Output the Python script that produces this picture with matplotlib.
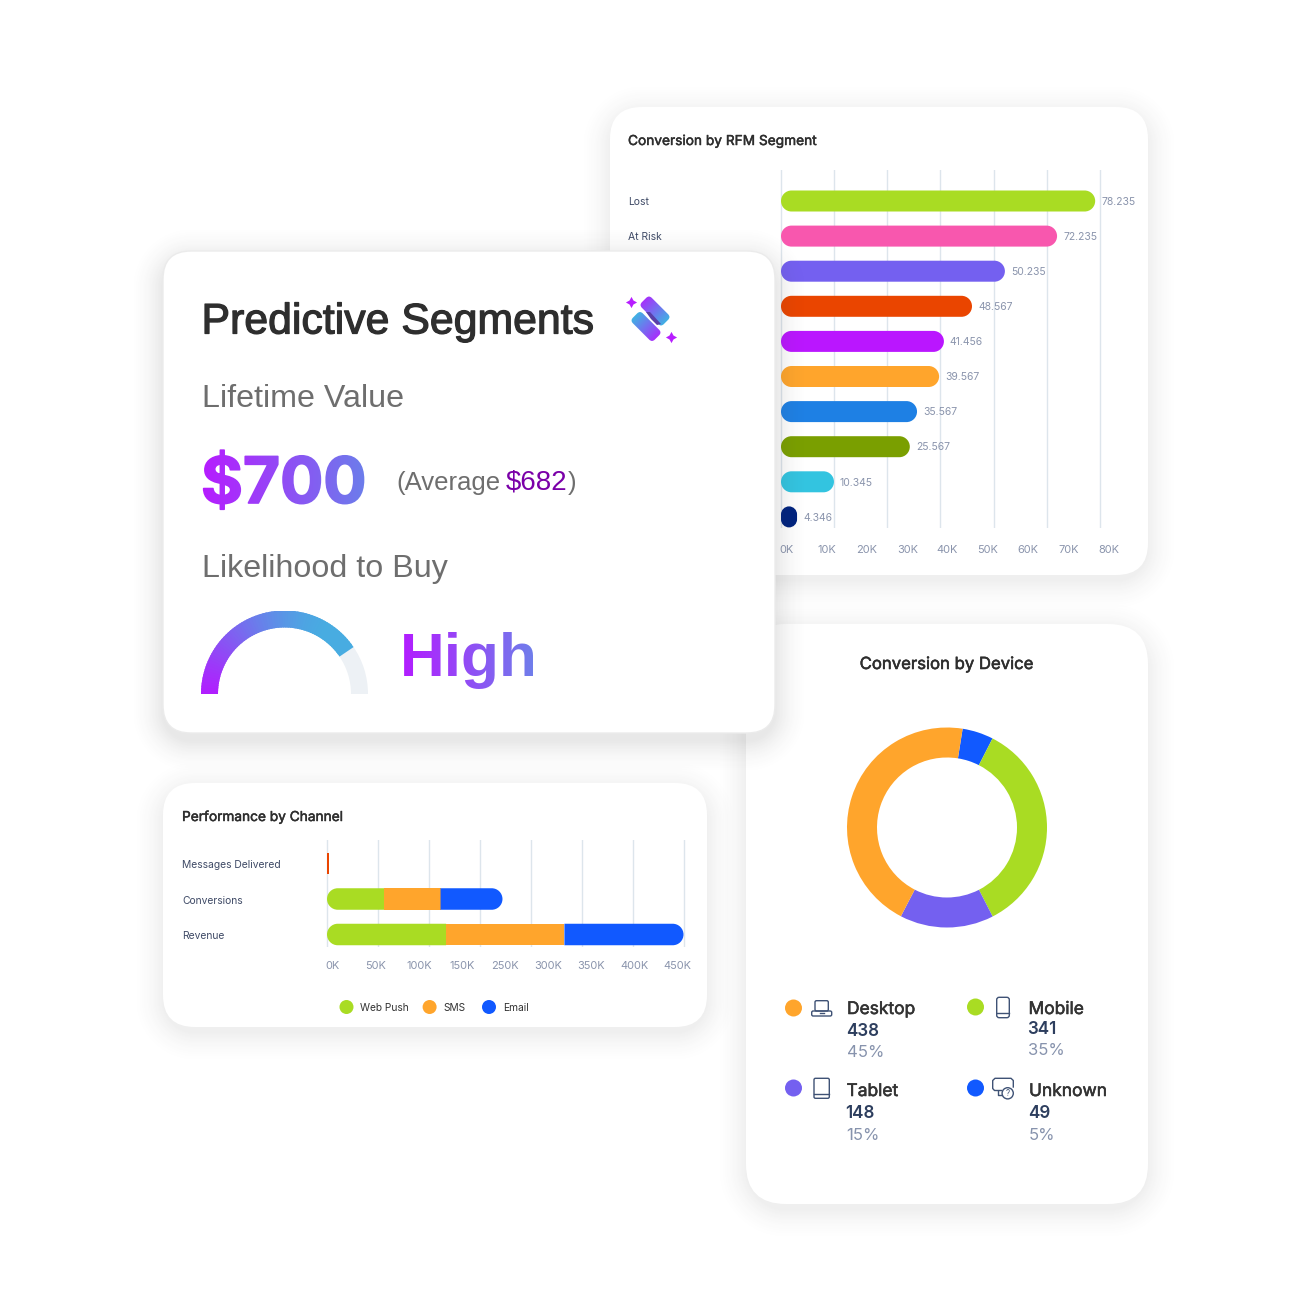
import numpy as np
import matplotlib
matplotlib.use("Agg")
import matplotlib.pyplot as plt
from matplotlib.patches import PathPatch, Wedge, Circle, FancyBboxPatch, Polygon
from matplotlib.path import Path
from matplotlib.transforms import Affine2D
import matplotlib.patheffects as pe

# ---------- data ----------
rfm_categories = ["Lost", "At Risk"]
rfm_lengths = [78.3, 68.8, 55.8, 47.6, 40.6, 39.4, 33.9, 32.1, 13.2, 4.0]
rfm_value_labels = ["78.235", "72.235", "50.235", "48.567", "41.456", "39.567", "35.567", "25.567", "10.345", "4.346"]
rfm_colors = ["#A9DC23", "#F857AE", "#7460F0", "#EA4500", "#BA16FF", "#FFA52C", "#1E80E4", "#7A9F00", "#33C4E0", "#00237F"]
rfm_ticks = ["0K", "10K", "20K", "30K", "40K", "50K", "60K", "70K", "80K"]

chan_categories = ["Messages Delivered", "Conversions", "Revenue"]
chan_series = ["Web Push", "SMS", "Email"]
chan_web = [2, 72, 150]
chan_sms = [0, 71, 149]
chan_email = [0, 78, 150]
chan_colors = ["#A9DC23", "#FFA52C", "#1159FF"]
chan_ticks = ["0K", "50K", "100K", "150K", "250K", "300K", "350K", "400K", "450K"]

dev_names = ["Unknown", "Mobile", "Tablet", "Desktop"]
dev_counts = [49, 341, 148, 438]
dev_pcts = ["5%", "35%", "15%", "45%"]
dev_colors = ["#1159FF", "#A9DC23", "#7460F0", "#FFA52C"]

gauge_value = 0.81

W = H = 1312
SANS = "Liberation Sans"
SMALL = "Inter"
fig = plt.figure(figsize=(13.12, 13.12), dpi=100, facecolor="white")


def fs(px):
    return px * 0.72


def px_axes(x0, y0, x1, y1, z):
    ax = fig.add_axes([x0 / W, 1 - y1 / H, (x1 - x0) / W, (y1 - y0) / H], zorder=z)
    ax.patch.set_visible(False)
    return ax


def overlay(z):
    ax = px_axes(0, 0, W, H, z)
    ax.set_axis_off()
    return ax


def finish(ax):
    ax.set_xlim(0, W)
    ax.set_ylim(H, 0)


yy, xx = np.mgrid[0:H, 0:W] + 0.5


def card(ax, x0, y0, x1, y1, r, strength=0.08, blur=34, dy=6, edge=None):
    cx, cy = (x0 + x1) / 2, (y0 + y1) / 2 + dy
    qx = np.abs(xx - cx) - (x1 - x0) / 2 + r
    qy = np.abs(yy - cy) - (y1 - y0) / 2 + r
    d = np.hypot(np.maximum(qx, 0), np.maximum(qy, 0)) + np.minimum(np.maximum(qx, qy), 0) - r
    a = strength * np.clip(1 - d / blur, 0, 1) ** 2
    img = np.zeros((H, W, 4))
    img[..., :3] = 0.25
    img[..., 3] = a
    ax.imshow(img, extent=(0, W, H, 0), aspect="auto", interpolation="nearest", zorder=0)
    ax.add_patch(FancyBboxPatch((x0, y0), x1 - x0, y1 - y0, boxstyle=f"round,pad=0,rounding_size={r}",
                                fc="white", ec=edge or "none", lw=1, zorder=1))


def pill(ax, x0, x1, yc, h_units, color, px_x, px_y, left=True, right=True, z=3):
    """Bar in data units, with corners round in pixels. px_x, px_y: pixels per data unit."""
    w_px = (x1 - x0) * px_x
    h_px = h_units * px_y
    r = min(h_px / 2, w_px / 2 if (left and right) else w_px)
    rx, ry = r / px_x, r / px_y
    k = 0.5523
    y0, y1 = yc - h_units / 2, yc + h_units / 2
    v, c = [], []
    if left:
        v += [(x0 + rx, y0)]; c += [Path.MOVETO]
    else:
        v += [(x0, y0)]; c += [Path.MOVETO]
    if right:
        v += [(x1 - rx, y0), (x1 - rx + k * rx, y0), (x1, y0 + ry - k * ry), (x1, y0 + ry),
              (x1, y1 - ry), (x1, y1 - ry + k * ry), (x1 - rx + k * rx, y1), (x1 - rx, y1)]
        c += [Path.LINETO, Path.CURVE4, Path.CURVE4, Path.CURVE4, Path.LINETO, Path.CURVE4, Path.CURVE4, Path.CURVE4]
    else:
        v += [(x1, y0), (x1, y1)]; c += [Path.LINETO, Path.LINETO]
    if left:
        v += [(x0 + rx, y1), (x0 + rx - k * rx, y1), (x0, y1 - ry + k * ry), (x0, y1 - ry),
              (x0, y0 + ry), (x0, y0 + ry - k * ry), (x0 + rx - k * rx, y0), (x0 + rx, y0)]
        c += [Path.LINETO, Path.CURVE4, Path.CURVE4, Path.CURVE4, Path.LINETO, Path.CURVE4, Path.CURVE4, Path.CURVE4]
    else:
        v += [(x0, y1), (x0, y0)]; c += [Path.LINETO, Path.LINETO]
    ax.add_patch(PathPatch(Path(v, c), fc=color, ec="none", zorder=z))


def hgrad(c0, c1):
    c0, c1 = np.array(c0) / 255, np.array(c1) / 255

    def f(img, dpi):
        h, w = img.shape[:2]
        t = np.linspace(0, 1, w)[None, :, None]
        img = img.copy()
        img[..., :3] = c0 * (1 - t) + c1 * t
        return img, 0, 0
    return f


def dgrad(c0, c1):
    c0, c1 = np.array(c0) / 255, np.array(c1) / 255

    def f(img, dpi):
        h, w = img.shape[:2]
        y, x = np.mgrid[0:h, 0:w]
        t = ((x + y) / max(w + h - 2, 1))[..., None]
        img = img.copy()
        img[..., :3] = c0 * (1 - t) + c1 * t
        return img, 0, 0
    return f


SLATE = "#3F4A66"
TICK = "#8A94AC"
GRID = "#DDE5EC"
DARK = "#2E2E2E"


def medium(color, lw=0.35):
    return [pe.withStroke(linewidth=lw, foreground=color)]


# ---------- RFM card ----------
ax0 = overlay(1)
card(ax0, 610, 107, 1148, 575, 32)
ax0.text(628, 145, "Conversion by RFM Segment", fontsize=fs(13.7), family=SMALL, color=DARK, path_effects=medium(DARK))
for i, name in enumerate(rfm_categories):
    ax0.text(628.3, 205 + 35 * i, name, fontsize=fs(10.4), family=SMALL, color=SLATE)
finish(ax0)

RX0, RX1, RY0, RY1 = 781, 1125, 170, 528
STEP = 35.1
pxx = 4.0125
axr = px_axes(RX0 - 2, RY0, RX1, RY1, 2)
for s in axr.spines.values():
    s.set_visible(False)
axr.set_yticks([])
axr.set_xticks(np.arange(7) * 53.15 / pxx)
axr.set_xticklabels([])
axr.tick_params(axis="x", which="major", length=0)
axr.grid(axis="x", color=GRID, lw=1)
axr.set_axisbelow(True)
axr.set_xticks((np.linspace(786.5, 1108.5, 9) - RX0) / pxx, rfm_ticks, minor=True)
axr.tick_params(axis="x", which="minor", length=0, pad=12, labelsize=fs(11), labelcolor=TICK)
axr.set_xlim(-2 / pxx, (RX1 - RX0) / pxx)
axr.set_ylim((RY1 - 201) / STEP, (RY0 - 201) / STEP)
for t in axr.get_xticklabels(minor=True):
    t.set_family(SMALL)
for i, (v, lab, col) in enumerate(zip(rfm_lengths, rfm_value_labels, rfm_colors)):
    pill(axr, 0, v, i, 21 / STEP, col, pxx, STEP)
    axr.text(v + 6 / pxx, i + 0.02, lab, fontsize=fs(10.4), family=SMALL, color=TICK, va="center", clip_on=False, zorder=4)

# ---------- Device card ----------
ax1 = overlay(3)
card(ax1, 746, 624, 1148, 1204, 40)
ax1.text(946.5, 669, "Conversion by Device", fontsize=fs(16.7), family=SMALL, color=DARK, ha="center", path_effects=medium(DARK, 0.4))
spots = {"Desktop": (793.5, 1008, 847, 1014, 1035.7, 1057.7),
         "Mobile": (975.5, 1007, 1028.5, 1014, 1034, 1055.7),
         "Tablet": (793.5, 1088, 846.5, 1096, 1118, 1140),
         "Unknown": (975.5, 1088, 1029, 1096, 1118, 1140)}
for name, n, p, col in zip(dev_names, dev_counts, dev_pcts, dev_colors):
    dx, dy, tx, y1, y2, y3 = spots[name]
    ax1.add_patch(Circle((dx, dy), 8.5, fc=col, ec="none", zorder=3))
    ax1.text(tx, y1, name, fontsize=fs(17.4), family=SMALL, color="#333333", zorder=3, path_effects=medium("#333333", 0.4))
    ax1.text(tx - 1, y2, str(n), fontsize=fs(17), family=SMALL, weight="semibold", color="#2D3E5E", zorder=3)
    ax1.text(tx - 0.5, y3 - 0.5, p, fontsize=fs(16.7), family=SMALL, color="#8793AD", zorder=3)
IC = "#3F5275"
ILW = 1.0


def rr(ax, x0, y0, x1, y1, r):
    ax.add_patch(FancyBboxPatch((x0, y0), x1 - x0, y1 - y0, boxstyle=f"round,pad=0,rounding_size={r}",
                                fc="none", ec=IC, lw=ILW, zorder=3))


rr(ax1, 815, 1000.7, 828.3, 1011, 1.5)
rr(ax1, 811.7, 1011, 831.7, 1016, 1.5)
ax1.plot([819.5, 823.5], [1013.4, 1013.4], color=IC, lw=ILW, zorder=3)
rr(ax1, 996.7, 997.3, 1009.3, 1017.7, 2.5)
ax1.plot([996.7, 1009.3], [1013.3, 1013.3], color=IC, lw=ILW, zorder=3)
rr(ax1, 814, 1078.3, 829.3, 1098.3, 1.5)
ax1.plot([814, 829.3], [1094, 1094], color=IC, lw=ILW, zorder=3)
ax1.plot([1001.5, 994.5, 992.7, 992.7, 995, 1011, 1013.3, 1013.3],
         [1090.5, 1090.5, 1088.5, 1080.5, 1078.3, 1078.3, 1080.5, 1087], color=IC, lw=ILW, zorder=3)
ax1.plot([998, 998, 1002], [1091, 1095, 1095], color=IC, lw=ILW, zorder=3)
ax1.add_patch(Circle((1007.7, 1093.3), 5.6, fc="white", ec=IC, lw=ILW, zorder=3))
ax1.text(1007.7, 1093.5, "?", fontsize=fs(8), family=SMALL, color=IC, ha="center", va="center", zorder=4)
finish(ax1)

axd = px_axes(847, 727.5, 1047, 927.5, 4)
axd.pie(dev_counts, colors=dev_colors, startangle=81, counterclock=False, radius=1,
        wedgeprops=dict(width=0.3, linewidth=0))
axd.set_xlim(-1, 1)
axd.set_ylim(-1, 1)

# ---------- Channel card ----------
ax2 = overlay(5)
card(ax2, 163, 783, 707, 1027, 32)
ax2.text(182, 821, "Performance by Channel", fontsize=fs(13.7), family=SMALL, color=DARK, zorder=3, path_effects=medium(DARK))
for name, y in zip(chan_categories, [868, 903.5, 939]):
    ax2.text(182.5, y, name, fontsize=fs(10.3), family=SMALL, color=SLATE, zorder=3)
for name, col, cx, tx in zip(chan_series, chan_colors, [346.5, 429.6, 489], [360.5, 443.6, 503]):
    ax2.add_patch(Circle((cx, 1007), 7, fc=col, ec="none", zorder=3))
    ax2.text(tx, 1011, name, fontsize=fs(10.2), family=SMALL, color="#333333", zorder=3)
finish(ax2)

CX0, CX1, CY0, CY1 = 327, 700, 840, 947
cpx = (684.3 - 327) / 450
axc = px_axes(CX0 - 2, CY0, CX1, CY1, 6)
CSTEP = 35.5
for s in axc.spines.values():
    s.set_visible(False)
axc.set_yticks([])
axc.set_xticks(np.arange(8) * 450 / 7)
axc.set_xticklabels([])
axc.tick_params(axis="x", which="major", length=0)
axc.grid(axis="x", color=GRID, lw=1)
axc.set_axisbelow(True)
axc.set_xticks((np.linspace(333, 677.5, 9) - CX0) / cpx, chan_ticks, minor=True)
axc.tick_params(axis="x", which="minor", length=0, pad=10, labelsize=fs(11), labelcolor=TICK)
axc.set_xlim(-2 / cpx, (CX1 - CX0) / cpx)
axc.set_ylim((CY1 - 863.5) / CSTEP, (CY0 - 863.5) / CSTEP)
for t in axc.get_xticklabels(minor=True):
    t.set_family(SMALL)
axc.barh(0, chan_web[0], height=21 / CSTEP, color="#EA4500", linewidth=0, zorder=3)
for i in (1, 2):
    a, b, c = chan_web[i], chan_sms[i], chan_email[i]
    pill(axc, 0, a, i, 21.5 / CSTEP, chan_colors[0], cpx, CSTEP, right=False)
    pill(axc, a, a + b, i, 21.5 / CSTEP, chan_colors[1], cpx, CSTEP, left=False, right=False)
    pill(axc, a + b, a + b + c, i, 21.5 / CSTEP, chan_colors[2], cpx, CSTEP, left=False)

# ---------- Predictive card ----------
ax3 = overlay(7)
card(ax3, 163, 251, 775, 733, 28, strength=0.12, blur=36, dy=8, edge="#EBEBEB")
ax3.text(201.5, 333.5, "Predictive Segments", fontsize=fs(42.8), family=SANS, color="#2E2E2E", zorder=3,
         path_effects=[pe.withStroke(linewidth=0.9, foreground="#2E2E2E")])
GRAY = "#6E6E6E"
ax3.text(201.5, 407, "Lifetime Value", fontsize=fs(32.3), family=SANS, color=GRAY, zorder=3)
ax3.text(201.5, 577, "Likelihood to Buy", fontsize=fs(32.3), family=SANS, color=GRAY, zorder=3)
t = ax3.text(201, 503, "$700", fontsize=fs(64), family=SMALL, weight="bold", color="#8A50F0", zorder=3,
             path_effects=[pe.withStroke(linewidth=1.2, foreground="#8A50F0")])
t.set_agg_filter(hgrad((182, 28, 255), (108, 125, 235)))
t = ax3.text(400, 676, "High", fontsize=fs(62), family=SANS, weight="bold", color="#8A50F0", zorder=3)
t.set_agg_filter(hgrad((178, 30, 255), (112, 125, 235)))
ax3.text(396.5, 490, "(Average", fontsize=fs(25.8), family=SANS, color=GRAY, zorder=3)
ax3.text(506, 490, "$682", fontsize=fs(27.6), family=SANS, color="#7A00A8", zorder=3)
ax3.text(567.5, 490, ")", fontsize=fs(26), family=SANS, color=GRAY, zorder=3)


# logo
def stadium(cx, cy, L, w, c0, c1, z):
    p = FancyBboxPatch((cx - L / 2, cy - w / 2), L, w, boxstyle="round,pad=0,rounding_size=4",
                       fc="#8A50F0", ec="none", zorder=z,
                       transform=Affine2D().rotate_deg_around(cx, cy, 45) + ax3.transData)
    p.set_agg_filter(dgrad(c0, c1))
    ax3.add_patch(p)


stadium(655, 311, 31, 14, (182, 28, 255), (48, 198, 224), 3)
stadium(646, 326.5, 31, 14, (48, 198, 224), (182, 28, 255), 4)
ax3.add_patch(Polygon([(646, 312), (650, 312), (661, 324), (657, 325), (651, 319)], fc="#5A3FA8", ec="none", zorder=5))
for sx, sy in [(630.5, 302), (670.5, 336.5)]:
    ax3.scatter([sx], [sy], marker=(4, 1, 0), s=65, c="#B71EFF", linewidths=0, zorder=5)
finish(ax3)

# gauge
GX, GY, R = 284.5, 694, 83.5
axg = px_axes(GX - R, GY - R, GX + R, GY, 8)
axg.set_xlim(-R, R)
axg.set_ylim(0, R)
axg.set_axis_off()
end = 180 * (1 - gauge_value)
axg.add_patch(Wedge((0, 0), R, 0, end + 0.5, width=17, fc="#EDF1F5", ec="none"))
c0, c1 = np.array([178, 28, 255]) / 255, np.array([72, 172, 225]) / 255
angles = np.linspace(180, end, 74)
for a0, a1 in zip(angles[:-1], angles[1:]):
    m = np.radians((a0 + a1) / 2)
    xm, ym = (R - 8.5) * np.cos(m), (R - 8.5) * np.sin(m)
    tt = np.clip(((xm + 75) + ym) / (62 + 75 + 42), 0, 1)
    col = c0 * (1 - tt) + c1 * tt
    top = min(a0 + 1.5, 180)
    axg.add_patch(Wedge((0, 0), R, a1, top, width=17, fc=col, ec="none"))

fig.savefig("out.png", dpi=100, facecolor="white")
